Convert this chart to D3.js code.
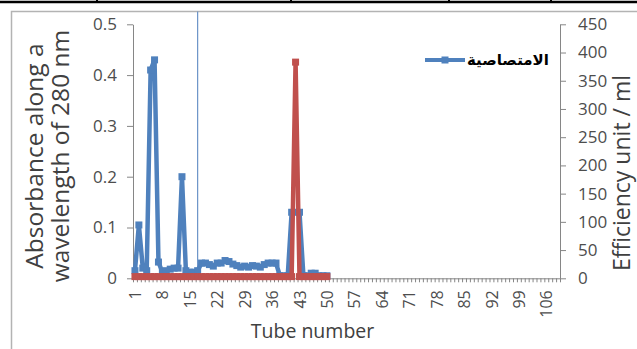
<!DOCTYPE html>
<html>
<head>
<meta charset="utf-8">
<script src="https://cdn.jsdelivr.net/npm/d3@7"></script>
<style>
  body { margin: 0; background: #fff; }
  text { font-family: "Open Sans", sans-serif; }
</style>
</head>
<body>
<div id="chart"></div>
<script>
// tube numbers on the category axis (1..109)
const tubes = d3.range(1, 110);
const tickTubes = tubes.filter((d, i) => i % 7 === 0);

// absorbance at 280 nm, tubes 1..50 (left axis)
const absorbance = [
  0.015, 0.105, 0.02, 0.015, 0.41, 0.43, 0.032, 0.012, 0.015, 0.018,
  0.02, 0.02, 0.2, 0.015, 0.012, 0.012, 0.015, 0.03, 0.03, 0.027,
  0.024, 0.03, 0.03, 0.035, 0.033, 0.028, 0.025, 0.022, 0.024, 0.022,
  0.025, 0.024, 0.022, 0.027, 0.03, 0.03, 0.03, 0.005, 0.005, 0.005,
  0.13, 0.13, 0.13, 0.005, 0.005, 0.01, 0.01, 0.005, 0.005, 0.005
];

// efficiency unit / ml, tubes 1..50 (right axis)
const efficiency = [
  3, 3, 3, 3, 3, 3, 3, 3, 3, 3,
  3, 3, 3, 3, 3, 3, 3, 3, 3, 3,
  3, 3, 3, 3, 3, 3, 3, 3, 3, 3,
  3, 3, 3, 3, 3, 3, 3, 3, 3, 3,
  3, 383, 3, 3, 3, 3, 3, 3, 3, 3
];

const leftTicks = [0, 0.1, 0.2, 0.3, 0.4, 0.5];
const rightTicks = [0, 50, 100, 150, 200, 250, 300, 350, 400, 450];
const legendLabel = "الامتصاصية";
const markerTube = 17; // thin vertical line

const width = 637, height = 349;
const blue = "#4f81bd", red = "#c0504d";

const svg = d3.select("#chart").append("svg")
    .attr("width", width)
    .attr("height", height);

//decoration: table border above the chart and chart frame
svg.append("line")
    .attr("x1", 0).attr("x2", width).attr("y1", 2).attr("y2", 2)
    .attr("stroke", "#000").attr("stroke-width", 2.5);
[97, 291, 449, 551].forEach(function(px) {
    svg.append("line")
        .attr("x1", px).attr("x2", px).attr("y1", 0).attr("y2", 3)
        .attr("stroke", "#000").attr("stroke-width", 2);
});
svg.append("rect")
    .attr("x", 11.5).attr("y", 11.5)
    .attr("width", 700).attr("height", 400)
    .attr("fill", "none")
    .attr("stroke", "#b3b3b3")
    .attr("stroke-width", 1.5);

//scales
const x = d3.scaleLinear().domain([0.5, tubes.length + 0.5]).range([133, 560]);
const yL = d3.scaleLinear().domain([0, 0.5]).range([278.3, 24.3]);
const yR = d3.scaleLinear().domain([0, 450]).range([278.3, 24.3]);

//axes
const axisColor = "#868686";
const tickColor = "#4d4d4d";

let gL = svg.append("g").attr("transform", "translate(133,0)")
    .call(d3.axisLeft(yL).tickValues(leftTicks).tickSize(6).tickSizeOuter(0).tickPadding(10)
        .tickFormat(d => d === 0 ? "0" : d.toFixed(1)));
let gR = svg.append("g").attr("transform", "translate(560,0)")
    .call(d3.axisRight(yR).tickValues(rightTicks).tickSize(6).tickSizeOuter(0).tickPadding(12));
let gX = svg.append("g").attr("transform", "translate(0,278.3)")
    .call(d3.axisBottom(x).tickValues(d3.range(0.5, tubes.length + 1, 1)).tickSize(4)
        .tickSizeOuter(0).tickFormat(""));
let gXL = svg.append("g").attr("transform", "translate(0,278.3)")
    .call(d3.axisBottom(x).tickValues(tickTubes).tickSize(0));
gXL.select(".domain").remove();
gXL.selectAll("text")
    .attr("transform", "rotate(-90)")
    .attr("x", -12)
    .attr("y", 0)
    .attr("dy", "0.35em")
    .attr("text-anchor", "end");

[gL, gR, gX, gXL].forEach(function(g) {
    g.selectAll(".domain, line").attr("stroke", axisColor);
    g.selectAll("text")
        .attr("fill", tickColor)
        .style("font-family", "'Open Sans', sans-serif")
        .style("font-size", "17px");
});
gXL.selectAll("text").style("font-size", "16px");

//axis titles
const titleColor = "#404040";
svg.append("text")
    .attr("transform", "translate(43,156) rotate(-90)")
    .attr("text-anchor", "middle")
    .attr("fill", titleColor)
    .style("font-size", "24.5px")
    .text("Absorbance along a");
svg.append("text")
    .attr("transform", "translate(69,156) rotate(-90)")
    .attr("text-anchor", "middle")
    .attr("fill", titleColor)
    .style("font-size", "24.5px")
    .text("wavelength of 280 nm");
svg.append("text")
    .attr("transform", "translate(630,173) rotate(-90)")
    .attr("text-anchor", "middle")
    .attr("fill", titleColor)
    .style("font-size", "23px")
    .text("Efficiency unit / ml");
svg.append("text")
    .attr("x", 312.5)
    .attr("y", 338)
    .attr("text-anchor", "middle")
    .attr("fill", titleColor)
    .style("font-size", "19.5px")
    .text("Tube number");

//thin vertical line at tube 17
svg.append("line")
    .attr("x1", x(markerTube)).attr("x2", x(markerTube))
    .attr("y1", 11.5).attr("y2", yL(absorbance[markerTube - 1]))
    .attr("stroke", "#6a93c8")
    .attr("stroke-width", 1.2);

//series
function drawSeries(values, y, color) {
    let pts = values.map((v, i) => [x(tubes[i]), y(v)]);
    svg.append("path")
        .attr("d", d3.line()(pts))
        .attr("fill", "none")
        .attr("stroke", color)
        .attr("stroke-width", 4.5)
        .attr("stroke-linejoin", "round");
    svg.append("g").selectAll("rect")
        .data(pts)
        .join("rect")
        .attr("x", d => d[0] - 3.5)
        .attr("y", d => d[1] - 3.5)
        .attr("width", 7)
        .attr("height", 7)
        .attr("fill", color);
}
drawSeries(absorbance, yL, blue);
drawSeries(efficiency, yR, red);

//legend (absorbance only)
let lg = svg.append("g").attr("transform", "translate(425,60)");
lg.append("line")
    .attr("x1", 0).attr("x2", 40).attr("y1", 0).attr("y2", 0)
    .attr("stroke", blue).attr("stroke-width", 4);
lg.append("rect")
    .attr("x", 16.5).attr("y", -3.5).attr("width", 7).attr("height", 7)
    .attr("fill", blue);
lg.append("text")
    .attr("x", 42)
    .attr("y", 0)
    .attr("dy", "0.35em")
    .attr("fill", "#000")
    .style("font-family", "'DejaVu Sans', sans-serif")
    .style("font-size", "15px")
    .style("font-weight", "bold")
    .text(legendLabel);
</script>
</body>
</html>
